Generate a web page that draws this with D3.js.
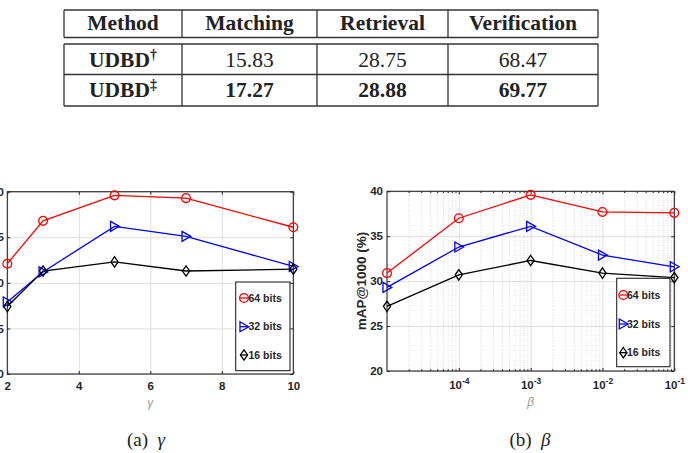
<!DOCTYPE html>
<html>
<head>
<meta charset="utf-8">
<script src="https://d3js.org/d3.v7.min.js"></script>
<style>
  body { margin: 0; background: #fff; }
  svg { display: block; }
</style>
</head>
<body>
<svg id="fig" width="688" height="453"></svg>
<script>
// ---- table values ----
var tableHeader = ['Method', 'Matching', 'Retrieval', 'Verification'];
var methodNames = ['UDBD', 'UDBD'];
var methodMarks = ['\u2020', '\u2021'];
var matchingVals = ['15.83', '17.27'];
var retrievalVals = ['28.75', '28.88'];
var verificationVals = ['68.47', '69.77'];

// ---- chart values ----
var seriesNames = ['64 bits', '32 bits', '16 bits'];
var gammaVals = [2, 3, 5, 7, 10];
var gamma64 = [32.1, 36.8, 39.6, 39.3, 36.1];
var gamma32 = [27.9, 31.2, 36.2, 35.1, 31.8];
var gamma16 = [27.4, 31.3, 32.3, 31.3, 31.5];
var betaVals = [1e-5, 1e-4, 1e-3, 1e-2, 1e-1];
var beta64 = [30.9, 37.0, 39.6, 37.7, 37.6];
var beta32 = [29.3, 33.8, 36.1, 32.9, 31.6];
var beta16 = [27.2, 30.7, 32.3, 30.9, 30.4];
var yTicks = [20, 25, 30, 35, 40];
var gammaTicks = [2, 4, 6, 8, 10];
var betaTicks = [1e-4, 1e-3, 1e-2, 1e-1];

var svg = d3.select('#fig');
var axisColor = '#262626';
var seriesColors = ['#ff0000', '#0000ff', '#000000'];
var seriesMarkers = ['circle', 'triangle', 'diamond'];

// ---------- table ----------
var colEdges = [64, 182, 317, 448, 598];
var headTop = 10, headBottom = 37.5;
var bodyLines = [44, 74.5, 106];
var baselines = [67, 97];
var tableFont = '"Liberation Serif", "Times New Roman", serif';
var tbl = svg.append('g');

var hLine = function(y) {
  tbl.append('line').attr('x1', colEdges[0]).attr('x2', colEdges[4])
    .attr('y1', y).attr('y2', y)
    .attr('stroke', '#333').attr('stroke-width', 1.3);
};
var vLines = function(y1, y2) {
  colEdges.forEach(function(x) {
    tbl.append('line').attr('x1', x).attr('x2', x).attr('y1', y1).attr('y2', y2)
      .attr('stroke', '#333').attr('stroke-width', 1.3);
  });
};
hLine(headTop); hLine(headBottom);
bodyLines.forEach(hLine);
vLines(headTop, headBottom);
vLines(bodyLines[0], bodyLines[2]);

var colCenter = function(i) { return (colEdges[i] + colEdges[i + 1]) / 2; };

tableHeader.forEach(function(h, i) {
  tbl.append('text').attr('x', colCenter(i)).attr('y', 30)
    .attr('text-anchor', 'middle').attr('font-family', tableFont)
    .attr('font-size', 21.5).attr('font-weight', 'bold').attr('fill', '#222')
    .text(h);
});

methodNames.forEach(function(name, r) {
  var bold = r === 1 ? 'bold' : 'normal';
  var t = tbl.append('text').attr('x', colCenter(0)).attr('y', baselines[r])
    .attr('text-anchor', 'middle').attr('font-family', tableFont)
    .attr('font-size', 21.5).attr('font-weight', 'bold').attr('fill', '#222');
  t.append('tspan').text(name);
  t.append('tspan').attr('font-size', 14).attr('dy', -8).text(methodMarks[r]);
  [matchingVals, retrievalVals, verificationVals].forEach(function(vals, c) {
    tbl.append('text').attr('x', colCenter(c + 1)).attr('y', baselines[r])
      .attr('text-anchor', 'middle').attr('font-family', tableFont)
      .attr('font-size', 21.5).attr('font-weight', bold).attr('fill', '#222')
      .text(vals[r]);
  });
});

// ---------- charts ----------
var markerPath = function(type) {
  if (type === 'circle') {
    var p = d3.path(); p.arc(0, 0, 4.4, 0, 2 * Math.PI); p.closePath();
    return p.toString();
  }
  if (type === 'triangle') return 'M-4,-5L4.8,0L-4,5Z';
  return 'M0,-5.2L3.6,0L0,5.2L-3.6,0Z';
};

var tickFont = '"Liberation Sans", Arial, sans-serif';
var tickSize = 11.5;

var drawPanel = function(cfg) {
  var g = svg.append('g');
  var x = cfg.x, y = cfg.y;
  var x0 = x.range()[0], x1 = x.range()[1];
  var y0 = y.range()[1], y1 = y.range()[0];

  // minor grid (log)
  if (cfg.minor) {
    g.append('g').attr('transform', 'translate(0,' + y1 + ')')
      .call(d3.axisBottom(x).tickValues(cfg.minor).tickSize(-(y1 - y0)).tickFormat(''))
      .call(function(s) {
        s.select('.domain').remove();
        s.selectAll('line').attr('stroke', '#cfcfcf').attr('stroke-dasharray', '1,1.5').attr('stroke-width', 0.8);
      });
  }
  // major grid
  g.append('g').attr('transform', 'translate(0,' + y1 + ')')
    .call(d3.axisBottom(x).tickValues(cfg.xGrid).tickSize(-(y1 - y0)).tickFormat(''))
    .call(function(s) {
      s.select('.domain').remove();
      s.selectAll('line').attr('stroke', '#dedede');
    });
  g.append('g').attr('transform', 'translate(' + x0 + ',0)')
    .call(d3.axisLeft(y).tickValues(yTicks).tickSize(-(x1 - x0)).tickFormat(''))
    .call(function(s) {
      s.select('.domain').remove();
      s.selectAll('line').attr('stroke', '#dedede');
    });

  // box
  g.append('rect').attr('x', x0).attr('y', y0).attr('width', x1 - x0).attr('height', y1 - y0)
    .attr('fill', 'none').attr('stroke', axisColor).attr('stroke-width', 1.1);

  var styleAxis = function(s) {
    s.select('.domain').remove();
    s.selectAll('line').attr('stroke', axisColor);
    s.selectAll('text').attr('font-family', tickFont).attr('font-size', tickSize)
      .attr('font-weight', 'bold').attr('fill', axisColor);
  };

  // minor ticks on log axis
  if (cfg.minor) {
    g.append('g').attr('transform', 'translate(0,' + y1 + ')')
      .call(d3.axisBottom(x).tickValues(cfg.minor).tickSize(-1.8).tickFormat('')).call(styleAxis);
    g.append('g').attr('transform', 'translate(0,' + y0 + ')')
      .call(d3.axisTop(x).tickValues(cfg.minor).tickSize(-1.8).tickFormat('')).call(styleAxis);
  }

  var bottom = g.append('g').attr('transform', 'translate(0,' + y1 + ')')
    .call(d3.axisBottom(x).tickValues(cfg.xTicks).tickSizeInner(-3).tickSizeOuter(0)
      .tickPadding(cfg.xPad).tickFormat(cfg.xFormat || d3.format('d')))
    .call(styleAxis);
  g.append('g').attr('transform', 'translate(0,' + y0 + ')')
    .call(d3.axisTop(x).tickValues(cfg.xTicks).tickSizeInner(-3).tickSizeOuter(0).tickFormat(''))
    .call(styleAxis);
  g.append('g').attr('transform', 'translate(' + x0 + ',0)')
    .call(d3.axisLeft(y).tickValues(yTicks).tickSizeInner(-3).tickSizeOuter(0)
      .tickPadding(cfg.yPad).tickFormat(d3.format('d')))
    .call(styleAxis);
  g.append('g').attr('transform', 'translate(' + x1 + ',0)')
    .call(d3.axisRight(y).tickValues(yTicks).tickSizeInner(-3).tickSizeOuter(0).tickFormat(''))
    .call(styleAxis);

  if (cfg.logLabels) {
    bottom.selectAll('.tick text').each(function(d) {
      var t = d3.select(this).text(null);
      t.append('tspan').text('10');
      t.append('tspan').attr('dy', -5).attr('font-size', 8.5).text(String(Math.round(Math.log10(d))));
    });
  }

  // series
  var line = d3.line().x(function(d) { return x(d[0]); }).y(function(d) { return y(d[1]); });
  cfg.series.forEach(function(vals, k) {
    var pts = cfg.xs.map(function(v, i) { return [v, vals[i]]; });
    g.append('path').attr('d', line(pts)).attr('fill', 'none')
      .attr('stroke', seriesColors[k]).attr('stroke-width', 1.3);
    g.selectAll(null).data(pts).enter().append('path')
      .attr('d', markerPath(seriesMarkers[k]))
      .attr('transform', function(d) { return 'translate(' + x(d[0]) + ',' + y(d[1]) + ')'; })
      .attr('fill', 'none').attr('stroke', seriesColors[k]).attr('stroke-width', 1.3);
  });

  // legend
  var L = cfg.legend;
  g.append('rect').attr('x', L.x).attr('y', L.y).attr('width', L.w).attr('height', L.h)
    .attr('fill', '#fff').attr('stroke', axisColor).attr('stroke-width', 1.1);
  seriesNames.forEach(function(name, k) {
    var ly = L.rows[k];
    g.append('line').attr('x1', L.mx - 4).attr('x2', L.mx + 4).attr('y1', ly).attr('y2', ly)
      .attr('stroke', seriesColors[k]).attr('stroke-width', 1.3);
    g.append('path').attr('d', markerPath(seriesMarkers[k]))
      .attr('transform', 'translate(' + L.mx + ',' + ly + ')')
      .attr('fill', 'none').attr('stroke', seriesColors[k]).attr('stroke-width', 1.3);
    g.append('text').attr('x', L.tx).attr('y', ly).attr('dy', '0.35em')
      .attr('font-family', tickFont).attr('font-size', 10.5).attr('font-weight', 'bold')
      .attr('fill', axisColor).text(name);
  });

  // x label
  g.append('text').attr('x', (x0 + x1) / 2).attr('y', cfg.xLabelY)
    .attr('text-anchor', 'middle').attr('font-family', tickFont).attr('font-style', 'italic')
    .attr('font-size', 12).attr('fill', '#9a9a9a').text(cfg.xLabel);
};

drawPanel({
  x: d3.scaleLinear().domain([2, 10]).range([7.3, 293.3]),
  y: d3.scaleLinear().domain([20, 40]).range([374, 191.7]),
  xs: gammaVals,
  series: [gamma64, gamma32, gamma16],
  xTicks: gammaTicks,
  xGrid: gammaTicks,
  xPad: 8,
  yPad: 3.3,
  xLabel: '\u03b3',
  xLabelY: 407,
  legend: { x: 235.7, y: 282, w: 54.3, h: 88.7, mx: 244, tx: 248.5, rows: [298, 326.7, 355] }
});

var betaMinor = [];
[-5, -4, -3, -2].forEach(function(e) {
  for (var m = 2; m <= 9; m++) betaMinor.push(m * Math.pow(10, e));
});

drawPanel({
  x: d3.scaleLog().domain([1e-5, 1e-1]).range([387, 674.3]),
  y: d3.scaleLinear().domain([20, 40]).range([371, 191.3]),
  xs: betaVals,
  series: [beta64, beta32, beta16],
  xTicks: betaTicks,
  xGrid: betaTicks,
  minor: betaMinor,
  logLabels: true,
  xFormat: function(d) { return String(d); },
  xPad: 10,
  yPad: 4,
  xLabel: '\u03b2',
  xLabelY: 406,
  legend: { x: 616.7, y: 278.3, w: 53.3, h: 88.4, mx: 623.3, tx: 627, rows: [295, 324, 352.7] }
});

svg.append('text').attr('transform', 'translate(361,281) rotate(-90)')
  .attr('text-anchor', 'middle').attr('dy', '0.35em')
  .attr('font-family', tickFont).attr('font-size', 13.5).attr('font-weight', 'bold')
  .attr('fill', axisColor).text('mAP@1000 (%)');

// captions
var captions = [['(a)', '\u03b3', 146], ['(b)', '\u03b2', 530]];
captions.forEach(function(c) {
  var t = svg.append('text').attr('x', c[2]).attr('y', 446).attr('text-anchor', 'middle')
    .attr('font-family', tableFont).attr('font-size', 19).attr('fill', '#222');
  t.append('tspan').text(c[0] + '\u2002');
  t.append('tspan').attr('font-style', 'italic').text(c[1]);
});
</script>
</body>
</html>
